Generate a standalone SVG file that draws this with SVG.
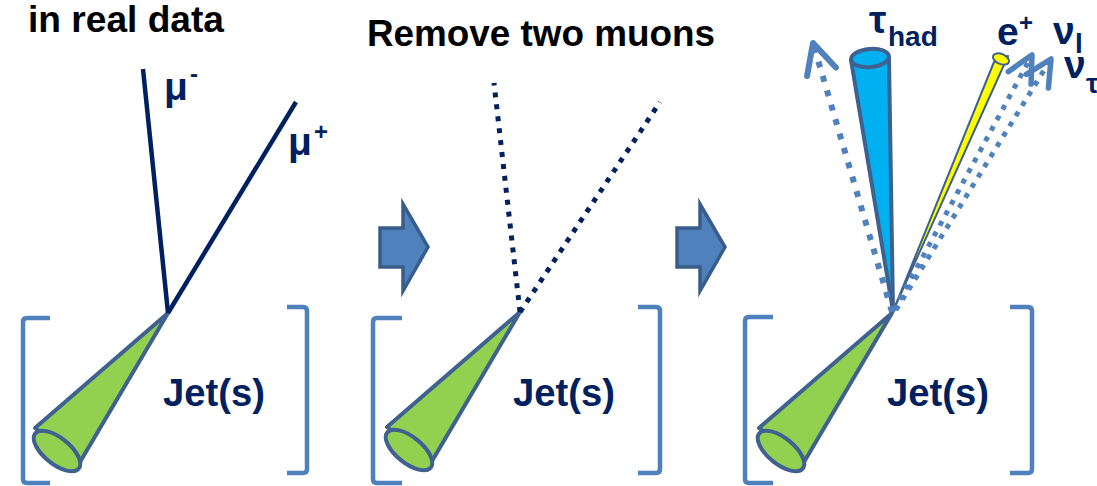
<svg xmlns="http://www.w3.org/2000/svg" xmlns:xlink="http://www.w3.org/1999/xlink" width="1097" height="486" viewBox="0 0 1097 486">
  <style>
    .title { font-family: "Liberation Sans", Arial, sans-serif; font-weight: bold; font-size: 37px; fill: #000000; }
    .lbl { font-family: "Liberation Sans", Arial, sans-serif; font-weight: bold; fill: #002060; }
    .big { font-size: 39px; }
    .sup { font-size: 24px; }
    .sub { font-size: 28px; }
    .jettxt { font-size: 38px; }
    .muon { stroke: #002060; stroke-width: 4.5; fill: none; }
    .muon-dot { stroke: #002060; stroke-width: 5; stroke-dasharray: 5 7; fill: none; }
    .bracket { stroke: #4F81BD; stroke-width: 4.5; fill: none; }
    .jet { fill: #92D050; stroke: #3E6190; stroke-width: 4; stroke-linejoin: round; }
    .step { fill: #4F81BD; stroke: #385D8A; stroke-width: 3.5; stroke-linejoin: miter; }
    .nu-wide { stroke: #4F81BD; stroke-width: 6; stroke-dasharray: 6 9; fill: none; }
    .nu { stroke: #4F81BD; stroke-width: 5; stroke-dasharray: 5 7; fill: none; }
    .tau { fill: #00B0F0; stroke: #3E6190; stroke-width: 4; stroke-linejoin: round; }
    .ele { fill: #FFFF00; stroke: #3E6190; stroke-width: 2; stroke-linejoin: round; }
  </style>
  <defs>
    <!-- jet cone, apex at the origin -->
    <g id="jetCone">
      <polygon class="jet" points="0,0 -133,115 -88,149"/>
      <ellipse class="jet" cx="-111" cy="138" rx="28" ry="13" transform="rotate(38.8 -111 138)"/>
    </g>
    <marker id="headWide" markerUnits="userSpaceOnUse" viewBox="-40 -24 48 48" refX="0" refY="0" markerWidth="48" markerHeight="48" orient="auto" overflow="visible">
      <path d="M-30,-15 L0,0 L-30,15" fill="none" stroke="#4F81BD" stroke-width="6" stroke-linecap="round" stroke-linejoin="round"/>
    </marker>
    <marker id="head" markerUnits="userSpaceOnUse" viewBox="-34 -22 44 44" refX="0" refY="0" markerWidth="44" markerHeight="44" orient="auto" overflow="visible">
      <path d="M-26,-13 L0,0 L-26,13" fill="none" stroke="#4F81BD" stroke-width="5.5" stroke-linecap="round" stroke-linejoin="round"/>
    </marker>
  </defs>

  <!-- headings -->
  <text class="title" x="28" y="32" textLength="196" lengthAdjust="spacingAndGlyphs">in real data</text>
  <text class="title" x="367" y="46" textLength="348" lengthAdjust="spacingAndGlyphs">Remove two muons</text>

  <!-- panel 1: event with two muons -->
  <g id="panel1-jet">
    <path class="bracket" d="M50,318 H27 Q23,318 23,322 V479 Q23,483 27,483 H50"/>
    <path class="bracket" d="M287,307 H303 Q307,307 307,311 V469 Q307,473 303,473 H287"/>
    <use xlink:href="#jetCone" href="#jetCone" x="168" y="313"/>
    <text class="lbl jettxt" x="163" y="406" textLength="102" lengthAdjust="spacingAndGlyphs">Jet(s)</text>
  </g>
  <g id="panel1-labels">
    <text class="lbl big" x="164" y="100">μ</text>
    <text class="lbl sup" x="190" y="82">-</text>
    <text class="lbl big" x="288" y="155">μ</text>
    <text class="lbl sup" x="314" y="140">+</text>
  </g>

  <!-- panel 2: muons removed -->
  <g id="panel2-jet">
    <path class="bracket" d="M402,318 H377 Q373,318 373,322 V479 Q373,483 377,483 H402"/>
    <path class="bracket" d="M638,307 H656 Q660,307 660,311 V469 Q660,473 656,473 H638"/>
    <use xlink:href="#jetCone" href="#jetCone" x="520" y="312"/>
    <text class="lbl jettxt" x="513" y="406" textLength="102" lengthAdjust="spacingAndGlyphs">Jet(s)</text>
  </g>

  <!-- panel 3: embedded tau pair -->
  <g id="panel3-jet">
    <path class="bracket" d="M773,317 H749 Q745,317 745,321 V479 Q745,483 749,483 H773"/>
    <path class="bracket" d="M1010,307 H1028 Q1032,307 1032,311 V469 Q1032,473 1028,473 H1010"/>
    <use xlink:href="#jetCone" href="#jetCone" x="892" y="313"/>
    <text class="lbl jettxt" x="887" y="406" textLength="102" lengthAdjust="spacingAndGlyphs">Jet(s)</text>
  </g>
  <g id="tau-had">
    <polygon class="tau" points="851,60 889,58 893,311"/>
    <ellipse class="tau" cx="870" cy="58" rx="19" ry="9" transform="rotate(-5 870 58)"/>
    <text class="lbl big" x="869" y="33">τ</text>
    <text class="lbl sub" x="888" y="46">had</text>
  </g>
  <g id="positron">
    <polygon class="ele" points="994,62 1008,56 894,309"/>
    <ellipse class="ele" cx="1001" cy="59" rx="8.5" ry="5" transform="rotate(23 1001 59)"/>
    <text class="lbl big" x="997" y="45">e</text>
    <text class="lbl sup" x="1019" y="31">+</text>
  </g>
  <g id="neutrino-labels">
    <text class="lbl big" x="1053" y="44">ν</text>
    <text class="lbl sub" x="1075" y="53" font-size="26">l</text>
    <text class="lbl big" x="1064" y="78">ν</text>
    <text class="lbl sub" x="1086" y="93">τ</text>
  </g>

  <!-- step arrows between panels -->
  <g id="step1">
    <path class="step" d="M380,228 H403 V204 L428,247 L403,291 V267 H380 Z"/>
  </g>
  <g id="step2">
    <path class="step" d="M677,228 H700 V204 L725,247 L700,291 V267 H677 Z"/>
  </g>

  <!-- tracks -->
  <g id="connectors">
    <line class="muon" x1="168" y1="313" x2="143" y2="69"/>
    <line class="muon" x1="168" y1="313" x2="296" y2="102"/>
    <line class="muon-dot" x1="520" y1="312" x2="494" y2="83"/>
    <line class="muon-dot" x1="520" y1="312" x2="660" y2="102"/>
    <line class="nu-wide" x1="892" y1="312" x2="813" y2="43" marker-end="url(#headWide)"/>
    <line class="nu" x1="894" y1="310" x2="1032" y2="55" marker-end="url(#head)"/>
    <line class="nu" x1="896" y1="310" x2="1051" y2="59" marker-end="url(#head)"/>
  </g>
</svg>
